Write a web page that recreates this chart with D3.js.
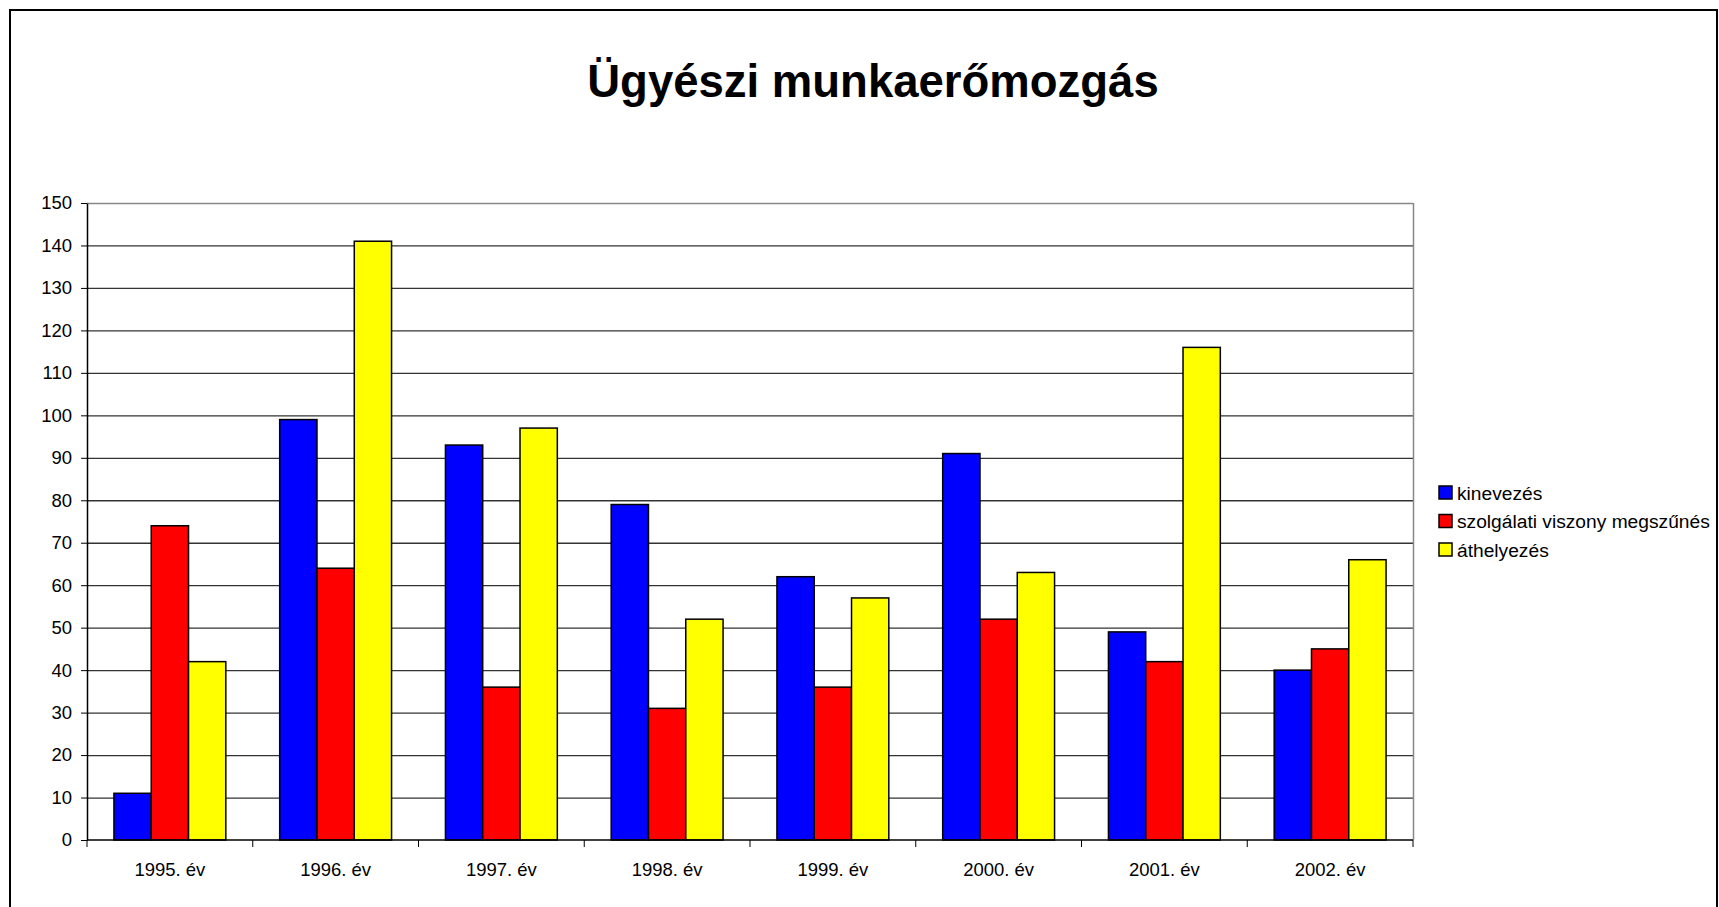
<!DOCTYPE html>
<html>
<head>
<meta charset="utf-8">
<script src="https://cdn.jsdelivr.net/npm/d3@7"></script>
<style>
  body { margin: 0; background: #fff; }
  svg { display: block; font-family: "Liberation Sans", Arial, sans-serif; }
  .axis text { font-size: 18.5px; fill: #000; }
  .axis path, .axis line { stroke: #000; }
</style>
</head>
<body>
<svg width="1719" height="907"></svg>
<script>
// chart data
var years = ["1995. év", "1996. év", "1997. év", "1998. év", "1999. év", "2000. év", "2001. év", "2002. év"];
var seriesNames = ["kinevezés", "szolgálati viszony megszűnés", "áthelyezés"];
var seriesColors = ["#0000ff", "#ff0000", "#ffff00"];
var kinevezes = [11, 99, 93, 79, 62, 91, 49, 40];
var megszunes = [74, 64, 36, 31, 36, 52, 42, 45];
var athelyezes = [42, 141, 97, 52, 57, 63, 116, 66];
var yTicks = d3.range(0, 151, 10);

var seriesValues = [kinevezes, megszunes, athelyezes];

var svg = d3.select("svg");

// outer frame
svg.append("rect")
    .attr("x", 10).attr("y", 10)
    .attr("width", 1707).attr("height", 920)
    .attr("fill", "none")
    .attr("stroke", "#000")
    .attr("stroke-width", 2);

// title
svg.append("text")
    .attr("x", 873)
    .attr("y", 97)
    .attr("text-anchor", "middle")
    .style("font-size", "45.5px")
    .style("font-weight", "bold")
    .text("Ügyészi munkaerőmozgás");

var plotLeft = 87, plotRight = 1413, plotTop = 203, plotBottom = 840;

var x0 = d3.scaleBand()
    .domain(years)
    .range([plotLeft, plotRight])
    .padding(0);

var groupW = x0.bandwidth() * 0.675;
var x1 = d3.scaleBand()
    .domain(d3.range(seriesNames.length))
    .range([(x0.bandwidth() - groupW) / 2, (x0.bandwidth() + groupW) / 2])
    .padding(0);

var y = d3.scaleLinear()
    .domain([0, 150])
    .range([plotBottom, plotTop]);

// gridlines
svg.append("g")
    .selectAll("line")
    .data(yTicks.slice(1))
    .enter().append("line")
    .attr("x1", plotLeft).attr("x2", plotRight)
    .attr("y1", function (d) { return y(d) + 0.5; })
    .attr("y2", function (d) { return y(d) + 0.5; })
    .attr("stroke", function (d) { return d == 150 ? "#888" : "#333"; })
    .attr("stroke-width", 1.3);

// right border of plot
svg.append("line")
    .attr("x1", plotRight + 0.5).attr("x2", plotRight + 0.5)
    .attr("y1", plotTop).attr("y2", plotBottom)
    .attr("stroke", "#888")
    .attr("stroke-width", 1.5);

// bars
var groups = svg.append("g")
    .selectAll("g")
    .data(years)
    .enter().append("g")
    .attr("transform", function (d) { return "translate(" + x0(d) + ",0)"; });

groups.selectAll("rect")
    .data(function (d, i) {
        return seriesValues.map(function (s, k) { return { k: k, v: s[i] }; });
    })
    .enter().append("rect")
    .attr("x", function (d) { return x1(d.k); })
    .attr("y", function (d) { return y(d.v); })
    .attr("width", x1.bandwidth())
    .attr("height", function (d) { return y(0) - y(d.v); })
    .attr("fill", function (d) { return seriesColors[d.k]; })
    .attr("stroke", "#000")
    .attr("stroke-width", 1.5);

// y axis
svg.append("g")
    .attr("class", "axis")
    .attr("transform", "translate(" + plotLeft + ",0)")
    .call(d3.axisLeft(y).tickValues(yTicks).tickSize(6).tickPadding(9).tickSizeOuter(0))
    .call(function (g) { g.select(".domain").attr("stroke-width", 1.5); });

// x axis, ticks at band boundaries
var xAxis = svg.append("g")
    .attr("class", "axis")
    .attr("transform", "translate(0," + plotBottom + ")");
xAxis.append("line")
    .attr("x1", plotLeft).attr("x2", plotRight)
    .attr("stroke", "#000").attr("stroke-width", 1.5);
xAxis.selectAll(".tk")
    .data(years.concat(["end"]))
    .enter().append("line")
    .attr("class", "tk")
    .attr("x1", function (d, i) { return plotLeft + i * x0.bandwidth(); })
    .attr("x2", function (d, i) { return plotLeft + i * x0.bandwidth(); })
    .attr("y1", 0).attr("y2", 7)
    .attr("stroke", "#000");
xAxis.selectAll("text")
    .data(years)
    .enter().append("text")
    .attr("x", function (d) { return x0(d) + x0.bandwidth() / 2; })
    .attr("y", 36)
    .attr("text-anchor", "middle")
    .text(function (d) { return d; });

// legend
var legend = svg.append("g")
    .selectAll("g")
    .data(seriesNames)
    .enter().append("g")
    .attr("transform", function (d, i) { return "translate(1439," + (493 + i * 28.5) + ")"; });
legend.append("rect")
    .attr("x", 0).attr("y", -7)
    .attr("width", 13).attr("height", 13)
    .attr("fill", function (d, i) { return seriesColors[i]; })
    .attr("stroke", "#000")
    .attr("stroke-width", 1.5);
legend.append("text")
    .attr("x", 18)
    .attr("y", 6.5)
    .style("font-size", "19.2px")
    .text(function (d) { return d; });
</script>
</body>
</html>
